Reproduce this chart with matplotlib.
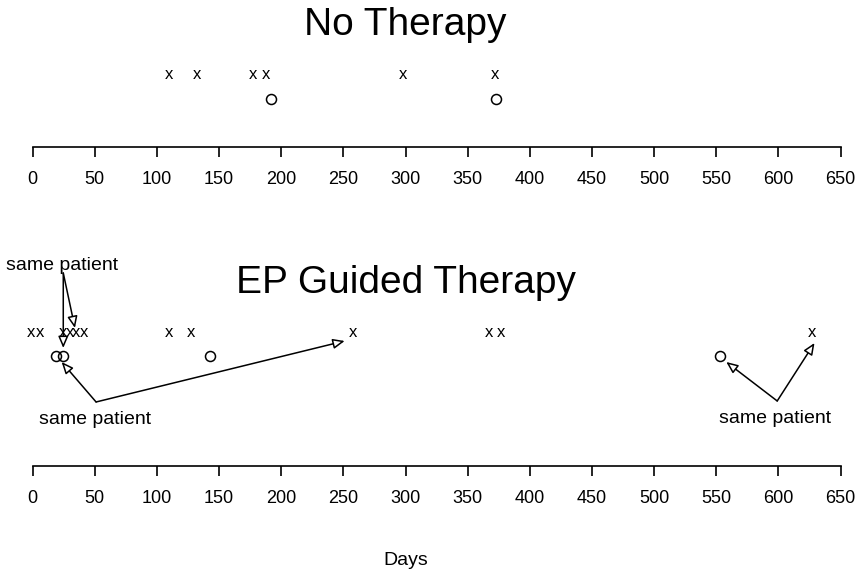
import matplotlib
matplotlib.use("Agg")
import matplotlib.pyplot as plt

plt.rcParams["font.family"] = ["Liberation Sans", "DejaVu Sans"]

# event days (x = event, o = censored) for each therapy arm
no_x = [110, 132, 177, 188, 298, 372]
no_o = [192, 373]
ep_x = [-1, 6, 24, 30, 35, 41, 110, 127, 258, 367, 377, 627]
ep_o = [19, 24, 143, 553]

ticks = list(range(0, 651, 50))

# "same patient" callouts: label position, arrow start, arrow tips
notes = [
    ((24, 196), (24.6, 193), [(24.6, 118), (34, 138)]),
    ((50, 42), (51, 64), [(23.3, 104), (251, 125)]),
    ((597, 43), (599, 65), [(558, 104), (629, 123)]),
]

XLIM = (-26.3, 664.8)


def strip_axis(ax, ylim):
    ax.set_xlim(*XLIM)
    ax.set_ylim(*ylim)
    for s in ("left", "right", "top"):
        ax.spines[s].set_visible(False)
    ax.spines["bottom"].set_bounds(0, 650)
    ax.spines["bottom"].set_linewidth(1.2)
    ax.set_yticks([])
    ax.set_xticks(ticks)
    ax.tick_params(axis="x", length=7.2, width=1.2, pad=10, labelsize=13)
    ax.patch.set_alpha(0)


def marks(ax, xs, os, y_x, y_o):
    for d in xs:
        ax.text(d, y_x, "x", ha="center", va="baseline", fontsize=12)
    ax.plot(os, [y_o] * len(os), "o", ms=7.2, mfc="none", mec="black", mew=1.1,
            ls="none", clip_on=False)


fig = plt.figure(figsize=(8.59, 5.75), dpi=100)

top = fig.add_axes([0, 0.7443, 1, 0.2557])
strip_axis(top, (0, 147))
marks(top, no_x, no_o, 68, 48)
top.text(300, 112, "No Therapy", ha="center", va="baseline", fontsize=28)

bot = fig.add_axes([0, 0.1896, 1, 0.4626])
strip_axis(bot, (0, 266))
marks(bot, ep_x, ep_o, 128.7, 110)
bot.text(300, 173, "EP Guided Therapy", ha="center", va="baseline", fontsize=28)

for (lx, ly), start, tips in notes:
    bot.text(lx, ly, "same patient", ha="center", va="baseline", fontsize=14)
    for tip in tips:
        bot.annotate("", xy=tip, xytext=start, annotation_clip=False,
                     arrowprops=dict(arrowstyle="-|>,head_length=0.7,head_width=0.3",
                                     fc="white", ec="black", lw=1.1,
                                     shrinkA=0, shrinkB=0))

bot.text(300, -95, "Days", ha="center", va="center", fontsize=14, clip_on=False)

fig.savefig("out.png", dpi=100)
